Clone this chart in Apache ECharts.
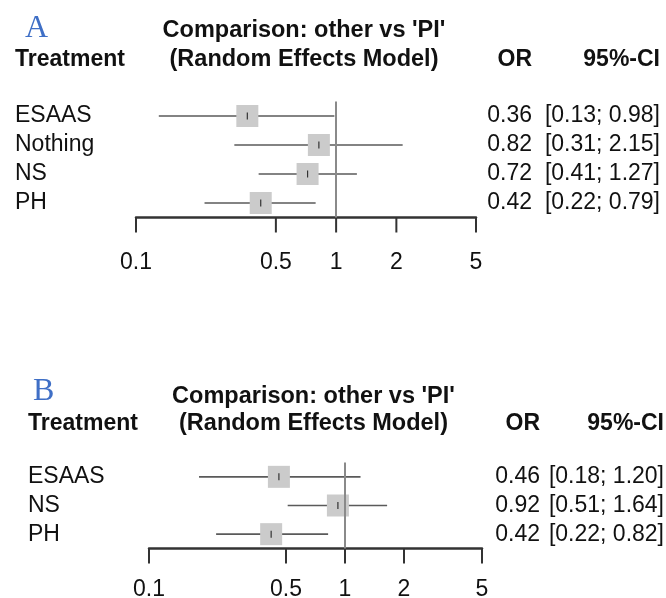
<!DOCTYPE html>
<html>
<head>
<meta charset="utf-8">
<script src="https://cdn.jsdelivr.net/npm/echarts@6/dist/echarts.min.js"></script>
<style>
html,body{margin:0;padding:0;background:#fff;}
#chart{width:666px;height:598px;}
</style>
</head>
<body>
<div id="chart"></div>
<script>
// ---- Data ----
const treatmentsA = ['ESAAS', 'Nothing', 'NS', 'PH'];
const orA = [0.36, 0.82, 0.72, 0.42];
const lowerA = [0.13, 0.31, 0.41, 0.22];
const upperA = [0.98, 2.15, 1.27, 0.79];

const treatmentsB = ['ESAAS', 'NS', 'PH'];
const orB = [0.46, 0.92, 0.42];
const lowerB = [0.18, 0.51, 0.22];
const upperB = [1.20, 1.64, 0.82];

const tickValues = [0.1, 0.5, 1, 2, 5];
const tickLabels = ['0.1', '0.5', '1', '2', '5'];
const refValue = 1;
const panelLetters = ['A', 'B'];
const titleLine1 = "Comparison: other vs 'PI'";
const titleLine2 = '(Random Effects Model)';
const colHeaders = ['Treatment', 'OR', '95%-CI'];

// ---- Layout (styles / positions) ----
const FONT = '"Liberation Sans", Arial, Helvetica, sans-serif';
const panels = [
  { grid: { left: 136, top: 101.5, width: 340, height: 116 }, letter: { x: 25, y: 30 }, treatX: 15, headY1: 31, headY2: 60, orRight: 532, ciRight: 660, labelOff: 45 },
  { grid: { left: 149, top: 462.5, width: 333, height: 86 }, letter: { x: 33, y: 393 }, treatX: 28, headY1: 397, headY2: 424, orRight: 540, ciRight: 664, labelOff: 41 }
];

const chart = echarts.init(document.getElementById('chart'), null, { renderer: 'canvas' });

function fmt(v) { return v.toFixed(2); }

function forestSeries(idx, cats, or, lo, hi) {
  const p = panels[idx];
  const data = cats.map((c, i) => [or[i], i, lo[i], hi[i]]);
  return {
    type: 'custom',
    xAxisIndex: idx, yAxisIndex: idx,
    clip: false,
    data: data,
    encode: { x: 0, y: 1 },
    renderItem: function (params, api) {
      const row = api.value(1);
      const pOr = api.coord([api.value(0), row]);
      const pLo = api.coord([api.value(2), row]);
      const pHi = api.coord([api.value(3), row]);
      const y = pOr[1];
      const s = 22;
      return {
        type: 'group',
        children: [
          { type: 'line', shape: { x1: pLo[0], y1: y, x2: pHi[0], y2: y }, style: { stroke: '#5a5a5a', lineWidth: 1.6 } },
          { type: 'rect', shape: { x: pOr[0] - s / 2, y: y - s / 2, width: s, height: s }, style: { fill: '#cbcbcb' } },
          { type: 'line', shape: { x1: pOr[0], y1: y - 3.5, x2: pOr[0], y2: y + 3.5 }, style: { stroke: '#333', lineWidth: 1.2 } },
          { type: 'text', style: { x: p.orRight, y: y, text: fmt(api.value(0)), align: 'right', verticalAlign: 'middle', font: '23px ' + FONT, fill: '#111' } },
          { type: 'text', style: { x: p.ciRight, y: y, text: '[' + fmt(api.value(2)) + '; ' + fmt(api.value(3)) + ']', align: 'right', verticalAlign: 'middle', font: '23px ' + FONT, fill: '#111' } }
        ]
      };
    },
    markLine: {
      silent: true,
      symbol: 'none',
      label: { show: false },
      lineStyle: { color: '#8a8a8a', width: 2, type: 'solid' },
      data: [{ xAxis: refValue }]
    },
    z: 3
  };
}

function tickSeries(idx) {
  const p = panels[idx];
  return {
    type: 'custom',
    xAxisIndex: idx, yAxisIndex: idx,
    clip: false,
    data: tickValues.map((v, i) => [v, i]),
    encode: { x: 0 },
    renderItem: function (params, api) {
      const v = api.value(0);
      const x = api.coord([v, 0])[0];
      const bottom = params.coordSys.y + params.coordSys.height;
      return {
        type: 'group',
        children: [
          { type: 'line', shape: { x1: x, y1: bottom, x2: x, y2: bottom + 15 }, style: { stroke: '#333', lineWidth: 2 } },
          { type: 'text', style: { x: x, y: bottom + p.labelOff, text: tickLabels[params.dataIndex], align: 'center', verticalAlign: 'middle', font: '23px ' + FONT, fill: '#111' } }
        ]
      };
    },
    z: 4
  };
}

const graphics = [];
panels.forEach((p, i) => {
  const cx = p.grid.left + p.grid.width / 2 - 2;
  graphics.push(
    { type: 'text', left: p.letter.x, top: p.letter.y - 17, style: { text: panelLetters[i], font: '32px "Liberation Serif", "Times New Roman", serif', fill: '#3f6fc6' } },
    { type: 'text', x: cx, y: p.headY1, style: { text: titleLine1, align: 'center', verticalAlign: 'middle', font: 'bold 23.5px ' + FONT, fill: '#111' } },
    { type: 'text', x: cx, y: p.headY2, style: { text: titleLine2, align: 'center', verticalAlign: 'middle', font: 'bold 23.5px ' + FONT, fill: '#111' } },
    { type: 'text', x: p.treatX, y: p.headY2, style: { text: colHeaders[0], align: 'left', verticalAlign: 'middle', font: 'bold 23px ' + FONT, fill: '#111' } },
    { type: 'text', x: p.orRight, y: p.headY2, style: { text: colHeaders[1], align: 'right', verticalAlign: 'middle', font: 'bold 23px ' + FONT, fill: '#111' } },
    { type: 'text', x: p.ciRight, y: p.headY2, style: { text: colHeaders[2], align: 'right', verticalAlign: 'middle', font: 'bold 23px ' + FONT, fill: '#111' } }
  );
});

function xAxisFor(idx) {
  return {
    type: 'log', logBase: 10, gridIndex: idx,
    min: tickValues[0], max: tickValues[tickValues.length - 1],
    axisLine: { show: true, onZero: false, lineStyle: { color: '#333', width: 2.5 } },
    axisTick: { show: false },
    axisLabel: { show: false },
    splitLine: { show: false }
  };
}
function yAxisFor(idx, cats) {
  const p = panels[idx];
  return {
    type: 'category', gridIndex: idx, data: cats, inverse: true,
    axisLine: { show: false }, axisTick: { show: false }, splitLine: { show: false },
    axisLabel: { show: true, interval: 0, align: 'left', margin: p.grid.left - p.treatX, fontSize: 23, fontFamily: FONT, color: '#111' }
  };
}

chart.setOption({
  animation: false,
  backgroundColor: '#fff',
  grid: panels.map(p => Object.assign({ containLabel: false }, p.grid)),
  xAxis: [xAxisFor(0), xAxisFor(1)],
  yAxis: [yAxisFor(0, treatmentsA), yAxisFor(1, treatmentsB)],
  graphic: graphics,
  series: [
    forestSeries(0, treatmentsA, orA, lowerA, upperA),
    forestSeries(1, treatmentsB, orB, lowerB, upperB),
    tickSeries(0),
    tickSeries(1)
  ]
});
</script>
</body>
</html>
